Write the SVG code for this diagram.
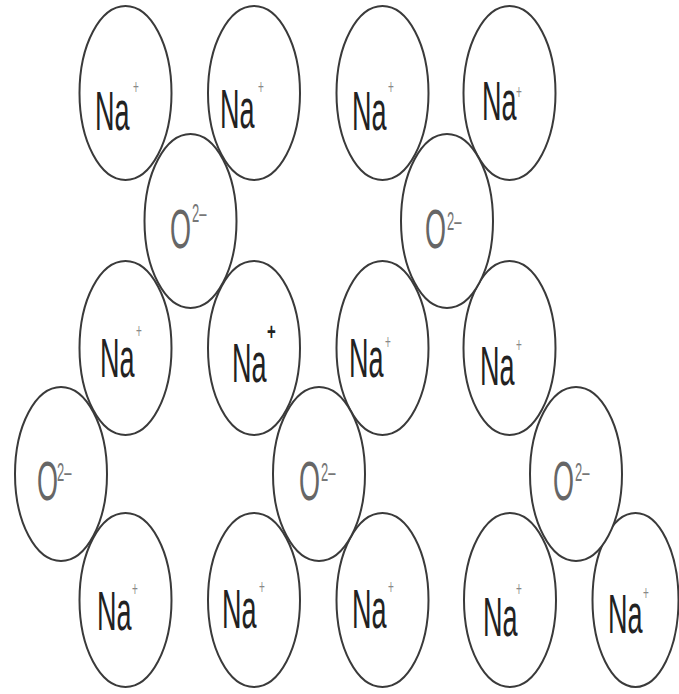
<svg xmlns="http://www.w3.org/2000/svg" width="679" height="694" viewBox="0 0 679 694">
<style>
.ion{fill:#fff;stroke:#3a3a3a;stroke-width:2}
.na{font-family:"Liberation Sans",Arial,sans-serif;font-size:27px;fill:#222}
.ox{font-family:"Liberation Sans",Arial,sans-serif;font-size:27px;fill:#666}
.sp{font-family:"Liberation Sans",Arial,sans-serif;font-size:10px;fill:#888}
.sb{font-family:"Liberation Sans",Arial,sans-serif;font-size:15px;font-weight:bold;fill:#222}
.so{font-family:"Liberation Sans",Arial,sans-serif;font-size:13px;fill:#777}
</style>
<rect width="679" height="694" fill="#fff"/>
<g id="connectors"></g>
<!-- Row 1 Na+ -->
<g id="na-r1c1"><ellipse class="ion" cx="125.5" cy="93" rx="46" ry="87"/><text class="na" transform="translate(95,130) scale(1,2.05)">Na</text><text class="sp" transform="translate(133,94) scale(1,2.05)">+</text></g>
<g id="na-r1c2"><ellipse class="ion" cx="254" cy="93" rx="46" ry="87"/><text class="na" transform="translate(220,128) scale(1,2.05)">Na</text><text class="sp" transform="translate(258,94) scale(1,2.05)">+</text></g>
<g id="na-r1c3"><ellipse class="ion" cx="382.5" cy="93" rx="46" ry="87"/><text class="na" transform="translate(352,130) scale(1,2.05)">Na</text><text class="sp" transform="translate(388,94) scale(1,2.05)">+</text></g>
<g id="na-r1c4"><ellipse class="ion" cx="509.5" cy="93" rx="46" ry="87"/><text class="na" transform="translate(482,120) scale(1,2.05)">Na</text><text class="sp" transform="translate(516,99) scale(1,2.05)">+</text></g>
<!-- Row 3 Na+ -->
<g id="na-r3c1"><ellipse class="ion" cx="125.5" cy="348" rx="46" ry="87"/><text class="na" transform="translate(100,377) scale(1,2.05)">Na</text><text class="sp" transform="translate(136,338) scale(1,2.05)">+</text></g>
<g id="na-r3c2"><ellipse class="ion" cx="254" cy="348" rx="46" ry="87"/><text class="na" transform="translate(232,382) scale(1,2.05)">Na</text><text class="sb" transform="translate(267,340) scale(1,1.6)">+</text></g>
<g id="na-r3c3"><ellipse class="ion" cx="382.5" cy="348" rx="46" ry="87"/><text class="na" transform="translate(349,377) scale(1,2.05)">Na</text><text class="sp" transform="translate(385,349) scale(1,2.05)">+</text></g>
<g id="na-r3c4"><ellipse class="ion" cx="509.5" cy="348" rx="46" ry="87"/><text class="na" transform="translate(480,385) scale(1,2.05)">Na</text><text class="sp" transform="translate(516,352) scale(1,2.05)">+</text></g>
<!-- Row 5 Na+ -->
<g id="na-r5c1"><ellipse class="ion" cx="125.5" cy="600" rx="46" ry="87"/><text class="na" transform="translate(97,630) scale(1,2.05)">Na</text><text class="sp" transform="translate(132,596) scale(1,2.05)">+</text></g>
<g id="na-r5c2"><ellipse class="ion" cx="254" cy="600" rx="46" ry="87"/><text class="na" transform="translate(222,628) scale(1,2.05)">Na</text><text class="sp" transform="translate(259,594) scale(1,2.05)">+</text></g>
<g id="na-r5c3"><ellipse class="ion" cx="382.5" cy="600" rx="46" ry="87"/><text class="na" transform="translate(352,628) scale(1,2.05)">Na</text><text class="sp" transform="translate(388,594) scale(1,2.05)">+</text></g>
<g id="na-r5c4"><ellipse class="ion" cx="510" cy="600" rx="46" ry="87"/><text class="na" transform="translate(483,636) scale(1,2.05)">Na</text><text class="sp" transform="translate(516,596) scale(1,2.05)">+</text></g>
<g id="na-r5c5"><ellipse class="ion" cx="635.5" cy="600" rx="43" ry="87"/><text class="na" transform="translate(608,633) scale(1,2.05)">Na</text><text class="sp" transform="translate(643,600) scale(1,2.05)">+</text></g>
<!-- Row 2 O2- -->
<g id="o-r2c1"><ellipse class="ion" cx="190.5" cy="221" rx="46" ry="87"/><text class="ox" transform="translate(170,248) scale(1,2.05)">O</text><text class="so" transform="translate(192,222) scale(1,2.05)">2–</text></g>
<g id="o-r2c2"><ellipse class="ion" cx="447" cy="221" rx="46" ry="87"/><text class="ox" transform="translate(425,248) scale(1,2.05)">O</text><text class="so" transform="translate(447,230) scale(1,2.05)">2–</text></g>
<!-- Row 4 O2- -->
<g id="o-r4c1"><ellipse class="ion" cx="61" cy="474" rx="46" ry="87"/><text class="ox" transform="translate(37,500) scale(1,2.05)">O</text><text class="so" transform="translate(57,481) scale(1,2.05)">2–</text></g>
<g id="o-r4c2"><ellipse class="ion" cx="319" cy="474" rx="46" ry="87"/><text class="ox" transform="translate(299,500) scale(1,2.05)">O</text><text class="so" transform="translate(321,481) scale(1,2.05)">2–</text></g>
<g id="o-r4c3"><ellipse class="ion" cx="576" cy="474" rx="46" ry="87"/><text class="ox" transform="translate(553,500) scale(1,2.05)">O</text><text class="so" transform="translate(575,481) scale(1,2.05)">2–</text></g>
</svg>
